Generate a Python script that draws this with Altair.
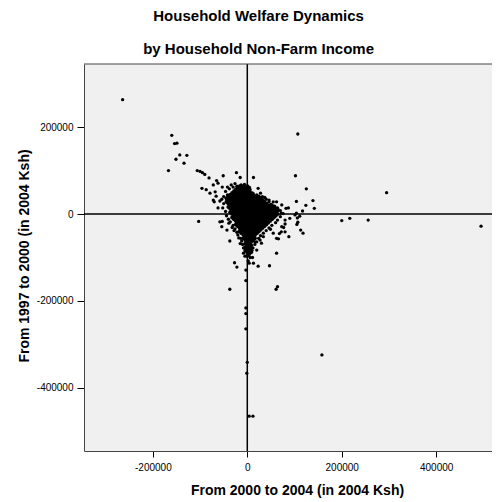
import altair as alt
import pandas as pd

# Scattered households (x: change 2000-2004, y: change 1997-2000), Ksh
outlier_x = [-264000, -160000, -154000, -149000, -143000, -128000, -151000, -134000, -167000, -106000,
             -100000, -95000, -90000, -81000, -51000, -23000, -15000, 13000, 107000, 102000,
             125000, 139000, 142000, 104000, 124000, 117000, 87000, 200000, 217000, 256000,
             295000, 495000, 158000, 113000, 118000, 111000, 101000, 106000, 107000, 105000,
             88000, 66000, 62000, 47000, 23000, -27000, -22000, -3000, -3000, -37000,
             64000, -103000, -53000, -37000, -15000, -96000, -87000, -70000, -62000, -72000,
             -65000, -62000, -53000, -42000, -34000, -21000, -13000, 23000, 28000, 37000,
             46000, 62000, 65000, 76000, 80000, 77000, 72000, 68000, 55000, 49000,
             30000, 16000, 11000, -5000, -18000, -32000, -39000, 13000, -8000, 6000,
             2000, 4000, 61000, -3000, -3000, -3000, 0, -1000, 4000, 12000,
             -22000, -66000, -28000, -22000, 55000, 73000, 82000, 104000, 90000, 80000,
             73000, 80000, 62000, 34000, 27000, 20000, -43000, -58000, -54000, -72000,
             -79000, -68000]
outlier_y = [263000, 181000, 162000, 163000, 136000, 135000, 126000, 117000, 100000, 100000,
             98000, 95000, 91000, 83000, 88000, 95000, 84000, 84000, 184000, 88000,
             58000, 31000, 13000, 29000, 20000, 7000, 14000, -15000, -10000, -14000,
             49000, -28000, -324000, -37000, -44000, -5000, -2000, -9000, -19000, -24000,
             -52000, -57000, -90000, -119000, -120000, -112000, -122000, -129000, -153000, -173000,
             -167000, -17000, -17000, -62000, -68000, 59000, 56000, 28000, 14000, 67000,
             77000, 71000, 62000, 62000, 67000, 58000, 67000, 59000, 48000, 38000,
             32000, 28000, 11000, 1000, -23000, -31000, -41000, -45000, -44000, -35000,
             -67000, -64000, -100000, -97000, -55000, -31000, -21000, -113000, -90000, -100000,
             -108000, -113000, -173000, -216000, -229000, -264000, -341000, -366000, -465000, -465000,
             57000, 41000, -38000, 64000, 28000, 21000, 13000, 2000, -10000, -14000,
             -29000, -41000, -56000, -52000, -60000, -83000, -37000, -18000, -29000, 32000,
             48000, 51000]

# Ragged fringe of the cloud, just outside its solid core
fringe_x = [-46000, -38000, -30000, -26000, -42000, -50000, -54000, -58000, -50000, -52000,
            -46000, -44000, -40000, -36000, -30000, -26000, -22000, -20000, -14000, -12000,
            -10000, -8000, 32000, 40000, 46000, 50000, 58000, 64000, 70000, 72000,
            70000, 64000, 60000, 52000, 46000, 40000, 34000, 28000, 24000, 20000,
            16000, 12000, 10000, 6000, 12000, 20000, -6000, 2000]
fringe_y = [52000, 58000, 62000, 70000, 44000, 40000, 34000, 30000, 24000, 14000,
            6000, -4000, -12000, -18000, -26000, -34000, -42000, -48000, -56000, -62000,
            -70000, -78000, 40000, 34000, 28000, 22000, 18000, 14000, 8000, 2000,
            -6000, -14000, -20000, -26000, -32000, -38000, -44000, -50000, -56000, -64000,
            -70000, -78000, -84000, 56000, 48000, 44000, 68000, 62000]

# Solid core of the cloud around the origin: one row of x values per y level
core_y = [64000, 60000, 56000, 52000, 48000, 44000, 40000, 36000, 32000, 28000,
          24000, 20000, 16000, 12000, 8000, 4000, 0, -4000, -8000, -12000,
          -16000, -20000, -24000, -28000, -32000, -36000, -40000, -44000, -48000, -52000,
          -56000, -60000, -64000, -68000, -72000, -76000, -80000, -84000, -88000, -92000,
          -96000]
core_x = [
    [-16000, -8000, 0],
    [-20000, -12000, -4000, 4000],
    [-24000, -16000, -8000, 0],
    [-28000, -20000, -12000, -4000, 4000],
    [-32000, -24000, -16000, -8000, 0, 8000],
    [-36000, -28000, -20000, -12000, -4000, 4000, 12000],
    [-40000, -32000, -24000, -16000, -8000, 0, 8000, 16000, 24000],
    [-44000, -36000, -28000, -20000, -12000, -4000, 4000, 12000, 20000, 28000],
    [-40000, -32000, -24000, -16000, -8000, 0, 8000, 16000, 24000, 32000],
    [-44000, -36000, -28000, -20000, -12000, -4000, 4000, 12000, 20000, 28000, 36000],
    [-40000, -32000, -24000, -16000, -8000, 0, 8000, 16000, 24000, 32000, 40000],
    [-36000, -28000, -20000, -12000, -4000, 4000, 12000, 20000, 28000, 36000, 44000, 52000],
    [-40000, -32000, -24000, -16000, -8000, 0, 8000, 16000, 24000, 32000, 40000, 48000, 56000],
    [-36000, -28000, -20000, -12000, -4000, 4000, 12000, 20000, 28000, 36000, 44000, 52000, 60000],
    [-32000, -24000, -16000, -8000, 0, 8000, 16000, 24000, 32000, 40000, 48000, 56000, 64000],
    [-36000, -28000, -20000, -12000, -4000, 4000, 12000, 20000, 28000, 36000, 44000, 52000, 60000],
    [-32000, -24000, -16000, -8000, 0, 8000, 16000, 24000, 32000, 40000, 48000, 56000, 64000],
    [-28000, -20000, -12000, -4000, 4000, 12000, 20000, 28000, 36000, 44000, 52000, 60000],
    [-32000, -24000, -16000, -8000, 0, 8000, 16000, 24000, 32000, 40000, 48000, 56000],
    [-28000, -20000, -12000, -4000, 4000, 12000, 20000, 28000, 36000, 44000, 52000],
    [-24000, -16000, -8000, 0, 8000, 16000, 24000, 32000, 40000, 48000],
    [-20000, -12000, -4000, 4000, 12000, 20000, 28000, 36000, 44000],
    [-24000, -16000, -8000, 0, 8000, 16000, 24000, 32000, 40000],
    [-20000, -12000, -4000, 4000, 12000, 20000, 28000, 36000],
    [-16000, -8000, 0, 8000, 16000, 24000, 32000],
    [-12000, -4000, 4000, 12000, 20000, 28000],
    [-16000, -8000, 0, 8000, 16000, 24000],
    [-12000, -4000, 4000, 12000, 20000],
    [-8000, 0, 8000, 16000],
    [-4000, 4000, 12000],
    [-8000, 0, 8000, 16000],
    [-4000, 4000, 12000],
    [0, 8000],
    [-4000, 4000],
    [0, 8000],
    [-4000, 4000],
    [0, 8000],
    [-4000, 4000],
    [0, 8000],
    [4000],
    [0],
]

x_ticks = [-200000, 0, 200000, 400000]
y_ticks = [-400000, -200000, 0, 200000]
x_domain = [-345800, 518200]
y_domain = [-545000, 345000]

scatter_df = pd.DataFrame({"x": list(outlier_x) + list(fringe_x),
                           "y": list(outlier_y) + list(fringe_y)})
cx, cy = [], []
for yv, row in zip(core_y, core_x):
    cx += row
    cy += [yv] * len(row)
core_df = pd.DataFrame({"x": cx, "y": cy})
zero = pd.DataFrame({"v": [0]})

FONT = "Liberation Sans"
W, H = 408, 387
xscale = alt.Scale(domain=x_domain, nice=False, zero=False)
yscale = alt.Scale(domain=y_domain, nice=False, zero=False)

xaxis = alt.Axis(values=x_ticks, labelExpr="'' + datum.value", tickSize=6, labelPadding=5,
                 title="From 2000 to 2004 (in 2004 Ksh)", titleX=213, titleY=43,
                 titleBaseline="alphabetic", titleAlign="center")
yaxis = alt.Axis(values=y_ticks, labelExpr="'' + datum.value", tickSize=7, labelPadding=4,
                 title="From 1997 to 2000 (in 2004 Ksh)", titleX=-55.5, titleY=191.5,
                 titleBaseline="alphabetic", titleAlign="center", titleAngle=270)

vline = alt.Chart(zero).mark_rule(color="black", strokeWidth=1.5).encode(
    x=alt.X("v:Q", scale=xscale, axis=xaxis))
hline = alt.Chart(zero).mark_rule(color="black", strokeWidth=1.5).encode(
    y=alt.Y("v:Q", scale=yscale, axis=yaxis))
top_frame = alt.Chart(zero).mark_rule(color="#444444", strokeWidth=1).encode(
    y=alt.value(0), x=alt.value(0), x2=alt.value(W))
core = alt.Chart(core_df).mark_circle(size=17, color="black", opacity=1).encode(
    x=alt.X("x:Q", scale=xscale, axis=xaxis),
    y=alt.Y("y:Q", scale=yscale, axis=yaxis),
)
points = alt.Chart(scatter_df).mark_circle(size=11, color="black", opacity=1).encode(
    x=alt.X("x:Q", scale=xscale, axis=xaxis),
    y=alt.Y("y:Q", scale=yscale, axis=yaxis),
)

chart = alt.layer(vline, hline, top_frame, core, points).properties(
    width=W,
    height=H,
    padding={"left": 76, "top": 56, "right": 0, "bottom": 48},
    autosize=alt.AutoSizeParams(type="none"),
    title=alt.TitleParams(
        text=["Household Welfare Dynamics", "by Household Non-Farm Income"],
        font=FONT, fontSize=15, fontWeight="bold", color="black",
        lineHeight=33, anchor="middle", dx=-29.4, dy=16, offset=7.5, baseline="bottom",
    ),
).configure_view(
    fill="#f0f0f0", strokeWidth=0
).configure_axis(
    labelFont=FONT, labelFontSize=10, labelColor="black",
    titleFont=FONT, titleFontSize=14, titleFontWeight="bold", titleColor="black",
    tickColor="black", grid=False, domain=True, domainColor="#444444", domainWidth=1,
)

chart.save("out.html", embed_options={"renderer": "svg", "actions": False})
